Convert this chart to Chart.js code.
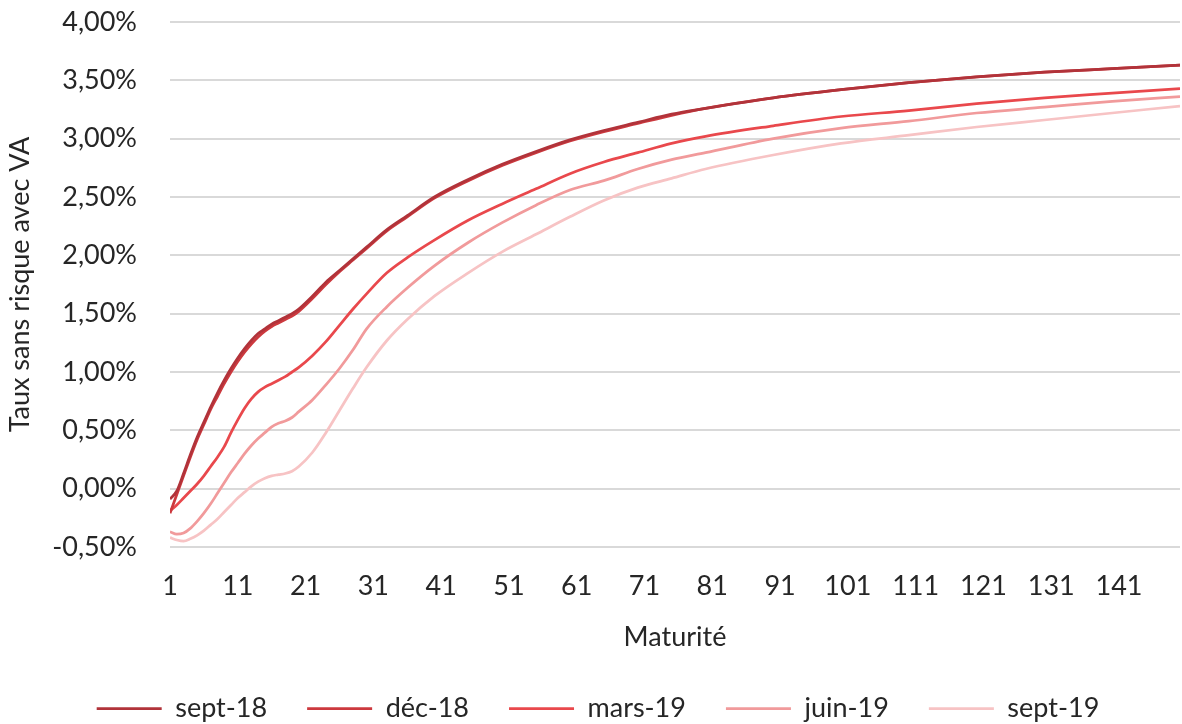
<!DOCTYPE html>
<html lang="fr">
<head>
<meta charset="utf-8">
<title>Taux sans risque avec VA</title>
<script src="https://cdn.jsdelivr.net/npm/chart.js@4/dist/chart.umd.min.js"></script>
<style>
  html, body { margin: 0; padding: 0; background: #ffffff; }
  #wrap { width: 1182px; height: 724px; position: relative; }
</style>
</head>
<body>
<div id="wrap"><canvas id="c" width="1182" height="724"></canvas></div>
<script>
// Maturities (years) at which each curve is sampled
const maturites = [1, 2, 3, 4, 5, 6, 7, 8, 9, 10, 11, 12, 13, 14, 15, 16, 17, 18, 19, 20,
  22, 24, 26, 28, 30, 33, 36, 40, 45, 50, 55, 60, 65, 70, 75, 80, 90, 100, 110, 120, 130, 140, 150];

// Risk-free rates with volatility adjustment, in %
const sept18 = [-0.09, -0.02, 0.13, 0.29, 0.44, 0.57, 0.70, 0.82, 0.93, 1.03, 1.12, 1.20, 1.27, 1.33, 1.37, 1.41, 1.44, 1.47, 1.50, 1.54,
  1.65, 1.77, 1.87, 1.97, 2.07, 2.22, 2.34, 2.50, 2.65, 2.78, 2.89, 2.99, 3.07, 3.14, 3.21, 3.26, 3.35, 3.42, 3.48, 3.53, 3.57, 3.60, 3.63];
const dec18 = [-0.21, -0.05, 0.11, 0.27, 0.42, 0.55, 0.68, 0.79, 0.90, 1.00, 1.09, 1.17, 1.24, 1.30, 1.35, 1.39, 1.42, 1.45, 1.48, 1.52,
  1.63, 1.75, 1.86, 1.96, 2.06, 2.21, 2.33, 2.49, 2.64, 2.77, 2.88, 2.98, 3.06, 3.13, 3.20, 3.26, 3.35, 3.42, 3.48, 3.53, 3.57, 3.60, 3.63];
const mars19 = [-0.19, -0.14, -0.08, -0.02, 0.04, 0.11, 0.19, 0.27, 0.36, 0.48, 0.59, 0.69, 0.77, 0.83, 0.87, 0.90, 0.93, 0.96, 1.00, 1.04,
  1.14, 1.26, 1.40, 1.54, 1.67, 1.85, 1.98, 2.13, 2.30, 2.44, 2.57, 2.70, 2.80, 2.88, 2.96, 3.02, 3.11, 3.19, 3.24, 3.30, 3.35, 3.39, 3.43];
const juin19 = [-0.37, -0.39, -0.38, -0.34, -0.28, -0.21, -0.13, -0.04, 0.05, 0.14, 0.22, 0.30, 0.37, 0.43, 0.48, 0.53, 0.56, 0.58, 0.61, 0.66,
  0.76, 0.89, 1.03, 1.19, 1.37, 1.56, 1.72, 1.91, 2.11, 2.28, 2.43, 2.56, 2.64, 2.74, 2.82, 2.88, 3.00, 3.09, 3.15, 3.22, 3.27, 3.32, 3.36];
const sept19 = [-0.42, -0.44, -0.45, -0.43, -0.40, -0.36, -0.31, -0.26, -0.20, -0.14, -0.08, -0.03, 0.02, 0.06, 0.09, 0.11, 0.12, 0.13, 0.15, 0.19,
  0.31, 0.48, 0.67, 0.86, 1.04, 1.27, 1.45, 1.65, 1.85, 2.03, 2.18, 2.33, 2.47, 2.58, 2.66, 2.74, 2.86, 2.96, 3.03, 3.10, 3.16, 3.22, 3.28];

const seriesNames = ['sept-18', 'déc-18', 'mars-19', 'juin-19', 'sept-19'];
const seriesValues = [sept18, dec18, mars19, juin19, sept19];
const seriesColors = ['#b1333a', '#cc393e', '#e9484c', '#f19a9b', '#f7c3c4'];

// Axis tick labels
const xTickValues = [1, 11, 21, 31, 41, 51, 61, 71, 81, 91, 101, 111, 121, 131, 141];
const yMin = -0.5, yMax = 4, yStep = 0.5;

const FONT = 'Lato, "Open Sans", "DejaVu Sans", sans-serif';
const TEXT = '#262626';
const fontMain = { family: FONT, size: 27 };

const datasets = seriesNames.map((name, i) => ({
  label: name,
  data: maturites.map((m, k) => ({ x: m, y: seriesValues[i][k] })),
  borderColor: seriesColors[i],
  backgroundColor: seriesColors[i],
  borderWidth: 2.75,
  pointRadius: 0,
  pointHoverRadius: 0,
  cubicInterpolationMode: 'monotone',
  fill: false,
  order: i
}));

new Chart(document.getElementById('c'), {
  type: 'line',
  data: { datasets },
  options: {
    responsive: false,
    animation: false,
    devicePixelRatio: 1,
    layout: { padding: { top: 22, right: 2, bottom: -8, left: 16 } },
    plugins: {
      tooltip: { enabled: false },
      legend: {
        position: 'bottom',
        labels: {
          font: fontMain,
          color: TEXT,
          usePointStyle: true,
          pointStyle: 'line',
          pointStyleWidth: 65,
          padding: 40
        }
      }
    },
    scales: {
      x: {
        type: 'linear',
        min: 1,
        max: 150,
        grid: { display: false },
        border: { display: false },
        afterBuildTicks: (scale) => { scale.ticks = xTickValues.map(v => ({ value: v })); },
        afterFit: (scale) => { scale.height = 108; },
        ticks: {
          autoSkip: false,
          maxRotation: 0,
          padding: 15,
          font: fontMain,
          color: TEXT,
          callback: (v) => String(v)
        },
        title: {
          display: true,
          text: 'Maturité',
          font: fontMain,
          color: TEXT,
          padding: { top: 0, bottom: 2 }
        }
      },
      y: {
        min: yMin,
        max: yMax,
        grid: { color: '#d9d9d9', lineWidth: 2, drawTicks: false },
        border: { display: false },
        afterFit: (scale) => {
          scale.width = 154;
          scale.paddingTop = 16;
          scale.paddingBottom = 16;
        },
        ticks: {
          stepSize: yStep,
          padding: 33,
          font: fontMain,
          color: TEXT,
          callback: (v) => v.toFixed(2).replace('.', ',') + '%'
        },
        title: {
          display: true,
          text: 'Taux sans risque avec VA',
          font: fontMain,
          color: TEXT,
          padding: { top: -12, bottom: 0 }
        }
      }
    }
  }
});
</script>
</body>
</html>
